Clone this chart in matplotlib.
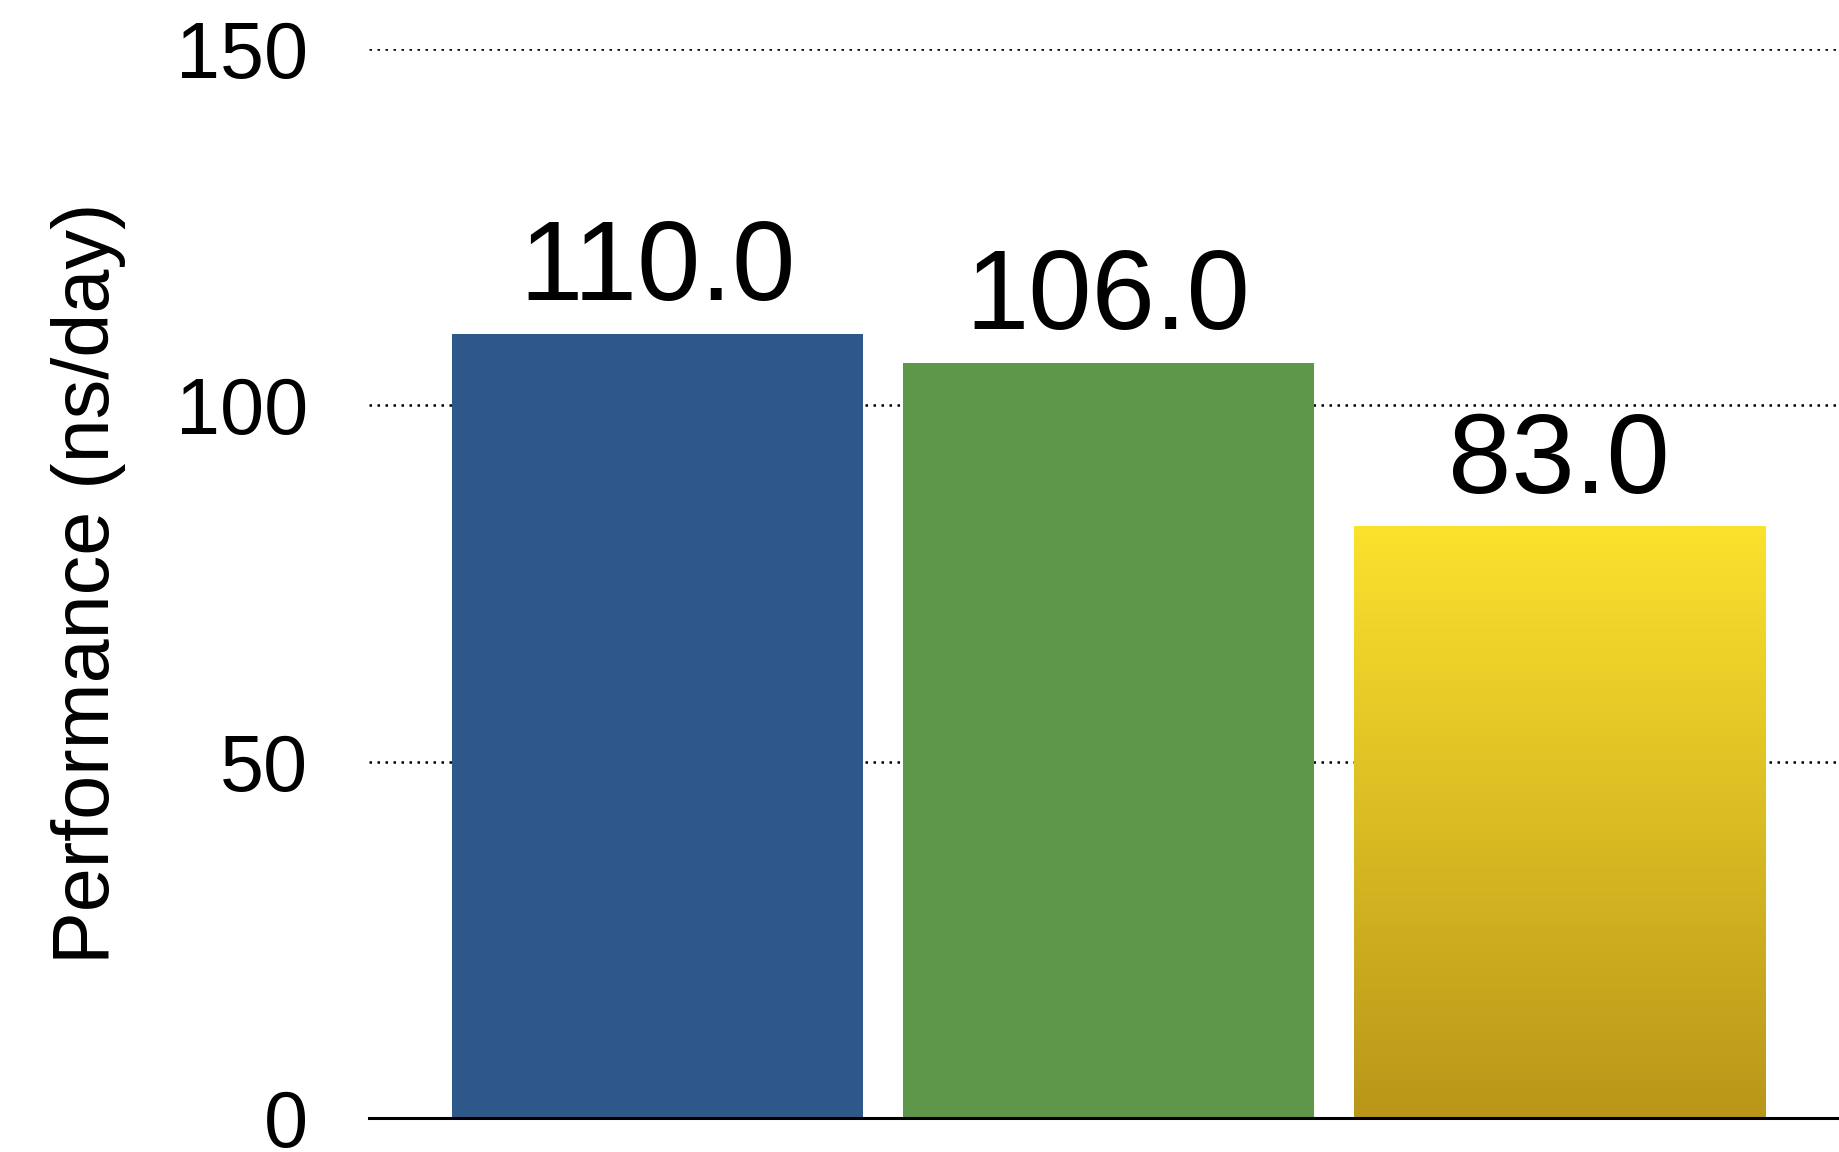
import numpy as np
import matplotlib
matplotlib.use("Agg")
import matplotlib.pyplot as plt
from matplotlib.colors import LinearSegmentedColormap

plt.rcParams["font.family"] = ["Liberation Sans", "DejaVu Sans"]

# Benchmark throughput per run
values = [110.0, 106.0, 83.0]
bar_colors = ["#2E5889", "#5E974A", None]           # last bar uses a gradient fill
gradient_top, gradient_bottom = "#FAE22D", "#BA9619"
y_ticks = [0, 50, 100, 150]
y_label = "Performance (ns/day)"

fig = plt.figure(figsize=(18.39, 11.52), dpi=100)
ax = fig.add_axes([369 / 1839, 1 - 1118 / 1152, 1 - 369 / 1839, (1118 - 49) / 1152])

x = np.arange(len(values))
width = 0.912

bars = ax.bar(x, values, width=width, color=[c if c else "none" for c in bar_colors],
              zorder=3, linewidth=0)

# vertical gradient for bars without a flat colour
cmap = LinearSegmentedColormap.from_list("grad", [gradient_bottom, gradient_top])
for xi, v, c in zip(x, values, bar_colors):
    if c is None:
        grad = np.linspace(0, 1, 256).reshape(-1, 1)
        ax.imshow(grad, cmap=cmap, origin="lower", aspect="auto",
                  extent=(xi - width / 2, xi + width / 2, 0, v), zorder=3)

for xi, v in zip(x, values):
    ax.text(xi, v + 1.4, f"{v:.1f}", ha="center", va="bottom", fontsize=82, zorder=4)

ax.set_xlim(-0.640, 2.621)
ax.set_ylim(0, 150)
ax.set_yticks(y_ticks)
ax.set_xticks([])
ax.tick_params(axis="y", length=0, pad=44, labelsize=57)
ax.yaxis.grid(True, color="black", linestyle=(0, (1, 2.2)), linewidth=1.8, zorder=1)
ax.set_axisbelow(True)

for side in ["left", "right", "top"]:
    ax.spines[side].set_visible(False)
ax.spines["bottom"].set_linewidth(2.2)
ax.spines["bottom"].set_zorder(5)

ax.set_ylabel(y_label, fontsize=57, labelpad=36)

fig.savefig("out.png", dpi=100)
